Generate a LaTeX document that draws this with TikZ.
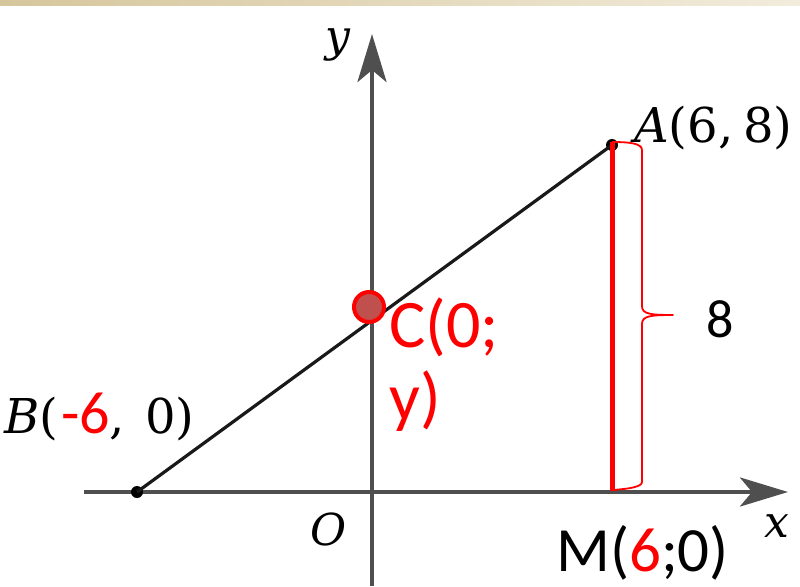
\documentclass[tikz,border=0pt]{standalone}
\usepackage{fontspec}
\setmainfont{DejaVu Serif}
\newfontfamily\carl{Carlito}
\usetikzlibrary{arrows.meta}
\definecolor{axisgray}{HTML}{4F4F4F}
\definecolor{redc}{HTML}{FF0000}
\definecolor{cfill}{HTML}{BF504D}
\definecolor{barL}{HTML}{D6C69C}
\definecolor{barR}{HTML}{F2ECDC}
\begin{document}
\begin{tikzpicture}[x=1pt,y=-1pt,
  axis/.style={draw=axisgray,line width=4.5pt,-{Stealth[length=48pt,width=29pt,inset=12pt]}},
  seg/.style={draw=black!90,line width=3.2pt},
  dot/.style={circle,fill=black,inner sep=0pt,minimum size=12pt},
  lbl/.style={inner sep=0pt,anchor=base west,font=\fontsize{44}{44}\selectfont},
  biglbl/.style={inner sep=0pt,anchor=base west,font=\fontsize{48}{48}\selectfont},
  redlbl/.style={inner sep=0pt,anchor=base west,text=redc,font=\carl\fontsize{68}{68}\selectfont},
  blk/.style={inner sep=0pt,anchor=base west}]
\useasboundingbox (0,0) rectangle (800,586);
\shade[left color=barL,right color=barR] (0,0) rectangle (800,6);
% axes
\coordinate (xs) at (84,492);
\coordinate (xe) at (788,492);
\coordinate (ys) at (372,586);
\coordinate (ye) at (372,34);
\draw[axis] (xs) -- (xe);
\draw[axis] (ys) -- (ye);
% points
\node[dot] (B) at (137,492) {};
\node[dot] (A) at (612,145) {};
\draw[seg] (B.center) -- (A.center);
% red segment and bracket
\coordinate (Ab) at (612.5,142);
\coordinate (M) at (612.5,491);
\draw[redc,line width=5pt] (Ab) -- (M);
\draw[redc,line width=1.8pt,line join=round]
  (612,142) .. controls (628,142) and (642,143) .. (642,150)
  -- (642,306) .. controls (642,314) and (650,315) .. (673,315)
  .. controls (650,315) and (642,316) .. (642,324)
  -- (642,482) .. controls (642,487) and (628,489) .. (612,490);
% C point
\node[circle,draw=redc,line width=4pt,fill=cfill,minimum size=30pt,inner sep=0pt] (C) at (369,307) {};
% labels
\node[biglbl] (lA) at (634,142) {\textit{A}(6,\hspace{10pt}8)};
\node[biglbl] (lB) at (4,433) {\textit{B}(\hspace{3pt}{\carl\fontsize{60}{60}\selectfont\color{redc}-6},\hspace{20pt}0)};
\node[lbl] (lO) at (310,545) {\textit{O}};
\node[lbl] (lx) at (764,537) {\textit{x}};
\node[lbl] (ly) at (325,52) {\textit{y}};
\node[redlbl] (lC1) at (389,347) {C(0;};
\node[redlbl] (lC2) at (389,420) {y)};
\node[blk,font=\carl\fontsize{63}{63}\selectfont] (lM) at (556,571) {M(\textcolor{redc}{6};0)};
\node[blk,font=\carl\fontsize{54}{54}\selectfont] (l8) at (706,337) {8};
\end{tikzpicture}
\end{document}
